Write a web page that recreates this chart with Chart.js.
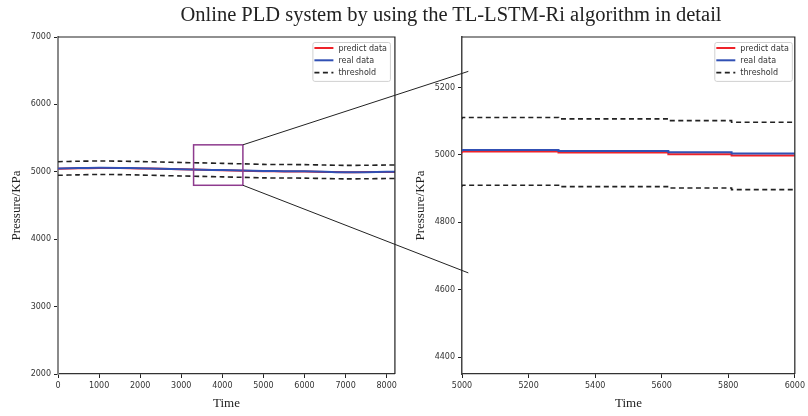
<!DOCTYPE html>
<html>
<head>
<meta charset="utf-8">
<script src="https://cdn.jsdelivr.net/npm/chart.js@4/dist/chart.umd.min.js"></script>
<style>
  body { margin: 0; background: #fff; }
  #wrap { position: relative; width: 808px; height: 416px; overflow: hidden; }
  #title { position: absolute; top: 3px; left: 451px; transform: translateX(-50%); white-space: nowrap;
           font-family: "Liberation Serif", serif; font-size: 20.5px; color: #222; }
  .box { position: absolute; top: 0; height: 416px; }
  #overlay { position: absolute; left: 0; top: 0; pointer-events: none; }
</style>
</head>
<body>
<div id="wrap">
  <div class="box" style="left:0;width:400px"><canvas id="fullChart"></canvas></div>
  <div class="box" style="left:400px;width:408px"><canvas id="zoomChart"></canvas></div>
  <canvas id="overlay" width="808" height="416"></canvas>
  <div id="title">Online PLD system by using the TL-LSTM-Ri algorithm in detail</div>
</div>
<script>
// full view (left)
const timeFull = [0, 500, 1000, 1500, 2000, 2500, 3000, 3500, 4000, 4500, 5000, 5500, 6000, 6500, 7000, 7500, 8000, 8200];
const predictFull = [5045, 5052, 5058, 5056, 5050, 5044, 5036, 5030, 5022, 5015, 5008, 5006, 5004, 4998, 4994, 4996, 4998, 4997];
const realFull = [5048, 5055, 5060, 5058, 5052, 5045, 5038, 5032, 5025, 5020, 5012, 5010, 5008, 5000, 4992, 4995, 5000, 5000];
const upperFull = [5150, 5157, 5160, 5158, 5152, 5145, 5138, 5132, 5125, 5118, 5110, 5108, 5106, 5100, 5095, 5097, 5100, 5100];
const lowerFull = [4948, 4955, 4960, 4958, 4952, 4945, 4938, 4932, 4925, 4918, 4910, 4908, 4906, 4900, 4895, 4897, 4900, 4900];
const xTicksFull = [0, 1000, 2000, 3000, 4000, 5000, 6000, 7000, 8000];
const yTicksFull = [2000, 3000, 4000, 5000, 6000, 7000];

// zoomed view (right), step values held until the next time
const timeZoom = [5000, 5290, 5620, 5810, 5900, 6000];
const predictZoom = [5005, 5010, 5007, 5002, 4998, 4998];
const realZoom = [5010, 5015, 5012, 5008, 5004, 5004];
const upperZoom = [5106, 5111, 5107, 5102, 5097, 5097];
const lowerZoom = [4906, 4910, 4906, 4902, 4897, 4897];
const xTicksZoom = [5000, 5200, 5400, 5600, 5800, 6000];
const yTicksZoom = [4400, 4600, 4800, 5000, 5200];

// zoom box on left chart [x0, x1, y0, y1] and connector ends on right chart
const zoomBox = [3300, 4500, 4800, 5400];
const connectorEnds = [[5019, 5248], [5019, 4650]];

const RED = '#ee2229';
const BLUE = '#3150b4';
const DASH = '#222';
const tickFont = { family: 'DejaVu Sans', size: 8 };
const labelFont = { family: 'Liberation Serif', size: 13 };

function pts(xs, ys) {
    return xs.map((x, i) => ({ x: x, y: ys[i] }));
}

function makeDatasets(xs, pred, real, up, low, stepped) {
    const base = { pointRadius: 0, fill: false, stepped: stepped, tension: stepped ? 0 : 0.3 };
    return [
        Object.assign({ label: 'predict data', data: pts(xs, pred), borderColor: RED, borderWidth: 2, order: 1 }, base),
        Object.assign({ label: 'real data', data: pts(xs, real), borderColor: BLUE, borderWidth: 2, order: 0 }, base),
        Object.assign({ label: 'threshold', data: pts(xs, up), borderColor: DASH, borderWidth: 1.6, borderDash: [5, 3.5], order: 2 }, base),
        Object.assign({ label: 'threshold', data: pts(xs, low), borderColor: DASH, borderWidth: 1.6, borderDash: [5, 3.5], order: 2, noLegend: true }, base)
    ];
}

// legend with a framed box, top-right inside the plot
const boxLegend = {
    id: 'boxLegend',
    afterDatasetsDraw(chart, args, opts) {
        const { ctx, chartArea } = chart;
        const items = chart.data.datasets.filter(d => !d.noLegend);
        ctx.save();
        ctx.font = '8px "DejaVu Sans"';
        const textW = Math.max(...items.map(d => ctx.measureText(d.label).width));
        const w = 2 + 19 + 5 + textW + 3;
        const rowH = 12.3;
        const h = items.length * rowH + 2;
        const x = chartArea.right - opts.margin - w;
        const y = chartArea.top + 5;
        ctx.fillStyle = 'rgba(255,255,255,0.85)';
        ctx.strokeStyle = '#d0d0d0';
        ctx.lineWidth = 1;
        ctx.beginPath();
        ctx.roundRect(x + 0.5, y + 0.5, w, h, 2);
        ctx.fill();
        ctx.stroke();
        items.forEach((d, i) => {
            const cy = y + 6 + i * rowH;
            ctx.strokeStyle = d.borderColor;
            ctx.lineWidth = d.borderWidth;
            ctx.setLineDash(d.borderDash || []);
            ctx.beginPath();
            ctx.moveTo(x + 2, cy);
            ctx.lineTo(x + 21, cy);
            ctx.stroke();
            ctx.setLineDash([]);
            ctx.fillStyle = '#333';
            ctx.textBaseline = 'middle';
            ctx.fillText(d.label, x + 26, cy + 0.5);
        });
        ctx.restore();
    }
};

// top and right spines
const frame = {
    id: 'frame',
    afterDraw(chart) {
        const { ctx, chartArea } = chart;
        ctx.save();
        ctx.strokeStyle = '#222';
        ctx.lineWidth = 1.2;
        ctx.beginPath();
        ctx.moveTo(chartArea.left, chartArea.top);
        ctx.lineTo(chartArea.right, chartArea.top);
        ctx.lineTo(chartArea.right, chartArea.bottom);
        ctx.stroke();
        ctx.restore();
    }
};

function makeOptions(cfg) {
    return {
        responsive: true,
        maintainAspectRatio: false,
        animation: false,
        layout: { padding: { top: 37, right: cfg.padRight, left: 0, bottom: 0 } },
        plugins: {
            legend: { display: false },
            tooltip: { enabled: false },
            boxLegend: { margin: cfg.legendMargin }
        },
        scales: {
            x: {
                type: 'linear', min: cfg.xMin, max: cfg.xMax,
                afterBuildTicks: s => { s.ticks = cfg.xTicks.map(v => ({ value: v })); },
                afterFit: s => { s.height = 42; },
                ticks: { font: tickFont, color: '#333', padding: 3, maxRotation: 0, callback: v => String(v) },
                grid: { drawOnChartArea: false, drawTicks: true, tickLength: 4, tickColor: '#222' },
                border: { color: '#333', width: 1.2 },
                title: { display: true, text: 'Time', font: labelFont, color: '#222', padding: { top: 0, bottom: 5 } }
            },
            y: {
                min: cfg.yMin, max: cfg.yMax,
                afterBuildTicks: s => { s.ticks = cfg.yTicks.map(v => ({ value: v })); },
                afterFit: s => { s.width = cfg.yWidth; },
                ticks: { font: tickFont, color: '#333', padding: 3, callback: v => String(v) },
                grid: { drawOnChartArea: false, drawTicks: true, tickLength: 4, tickColor: '#222' },
                border: { color: cfg.yBorderColor, width: cfg.yBorderWidth },
                title: { display: true, text: 'Pressure/KPa', font: labelFont, color: '#222', padding: { top: cfg.yTitlePad, bottom: 0 } }
            }
        }
    };
}

const fullChart = new Chart(document.getElementById('fullChart'), {
    type: 'line',
    data: { datasets: makeDatasets(timeFull, predictFull, realFull, upperFull, lowerFull, false) },
    options: makeOptions({
        padRight: 5, legendMargin: 5, xMin: 0, xMax: 8200, xTicks: xTicksFull,
        yMin: 2000, yMax: 7000, yTicks: yTicksFull, yWidth: 58,
        yBorderColor: '#8a8a8a', yBorderWidth: 2, yTitlePad: 9
    }),
    plugins: [boxLegend, frame]
});

const zoomChart = new Chart(document.getElementById('zoomChart'), {
    type: 'line',
    data: { datasets: makeDatasets(timeZoom, predictZoom, realZoom, upperZoom, lowerZoom, 'after') },
    options: makeOptions({
        padRight: 10, legendMargin: 3, xMin: 5000, xMax: 6000, xTicks: xTicksZoom,
        yMin: 4350, yMax: 5350, yTicks: yTicksZoom, yWidth: 62,
        yBorderColor: '#444', yBorderWidth: 1.5, yTitlePad: 13
    }),
    plugins: [boxLegend, frame]
});

// zoom rectangle and connector lines across both charts
function drawOverlay() {
    const ctx = document.getElementById('overlay').getContext('2d');
    const fx = fullChart.scales.x, fy = fullChart.scales.y;
    const zx = zoomChart.scales.x, zy = zoomChart.scales.y;
    const offset = 400;
    const x0 = fx.getPixelForValue(zoomBox[0]), x1 = fx.getPixelForValue(zoomBox[1]);
    const y0 = fy.getPixelForValue(zoomBox[2]), y1 = fy.getPixelForValue(zoomBox[3]);
    ctx.clearRect(0, 0, 808, 416);
    ctx.strokeStyle = '#8e3b8e';
    ctx.lineWidth = 1.5;
    ctx.strokeRect(x0, y1, x1 - x0, y0 - y1);
    ctx.strokeStyle = '#222';
    ctx.lineWidth = 1;
    const starts = [[x1, y1], [x1, y0]];
    connectorEnds.forEach((e, i) => {
        ctx.beginPath();
        ctx.moveTo(starts[i][0], starts[i][1]);
        ctx.lineTo(offset + zx.getPixelForValue(e[0]), zy.getPixelForValue(e[1]));
        ctx.stroke();
    });
}
drawOverlay();
</script>
</body>
</html>
